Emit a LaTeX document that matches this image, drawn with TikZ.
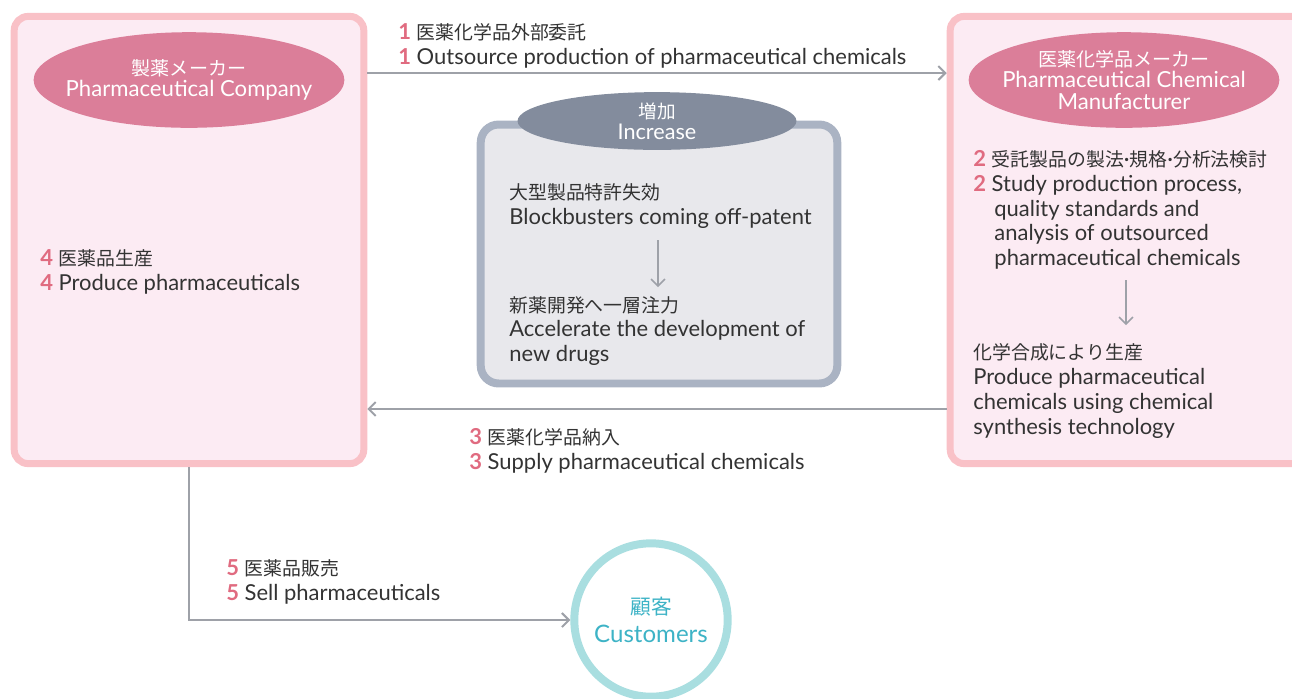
\documentclass[tikz,border=0pt]{standalone}
\usepackage{fontspec}
\setmainfont{Lato}
\newfontfamily\jp[Scale=0.86]{Noto Sans CJK JP}
\usepackage{tikz}
\usetikzlibrary{arrows.meta,positioning,calc,shapes.geometric}
\definecolor{boxpink}{HTML}{F9C1C7}
\definecolor{fillpink}{HTML}{FCEBF3}
\definecolor{ovalpink}{HTML}{DB7E99}
\definecolor{numred}{HTML}{E06B80}
\definecolor{boxgray}{HTML}{AAB3C3}
\definecolor{fillgray}{HTML}{E8E8EC}
\definecolor{ovalgray}{HTML}{838C9D}
\definecolor{linegray}{HTML}{9EA1A8}
\definecolor{ringteal}{HTML}{A9DEE0}
\definecolor{textteal}{HTML}{3DB3C6}
\definecolor{textdark}{HTML}{333333}
\def\px{0.5669pt}
\newcommand{\num}[1]{{\color{numred}\bfseries #1}}
\newcommand{\mdot}{{\fontspec{Lato}\textperiodcentered}}
\tikzset{
  firmbox/.style={
    draw=boxpink,
    fill=fillpink,
    line width=7*\px,
    rounded corners=14*\px,
    inner sep=0pt
  },
  trendbox/.style={
    draw=boxgray,
    fill=fillgray,
    line width=8*\px,
    rounded corners=18*\px,
    inner sep=0pt
  },
  firmoval/.style={
    ellipse,
    fill=ovalpink,
    text=white,
    align=center,
    inner xsep=-30pt,
    inner ysep=0pt,
    minimum width=312*\px,
    minimum height=96*\px,
    font=\fontsize{12.6pt}{12.3pt}\selectfont
  },
  trendoval/.style={
    ellipse,
    fill=ovalgray,
    text=white,
    align=center,
    inner xsep=-10pt,
    inner ysep=-2pt,
    minimum width=280*\px,
    minimum height=58*\px,
    font=\fontsize{12.3pt}{12pt}\selectfont
  },
  flowtext/.style={
    anchor=west,
    align=left,
    inner sep=0pt,
    text=textdark,
    font=\fontsize{12.5pt}{14.1pt}\selectfont
  },
  flowarrow/.style={-{Straight Barb[length=7*\px,width=14*\px]}, line width=2*\px, draw=linegray},
  steparrow/.style={-{Straight Barb[length=7*\px,width=14*\px]}, line width=1.5*\px, draw=linegray}
}
\begin{document}
\begin{tikzpicture}[x=0.02cm,y=-0.02cm]
\useasboundingbox (0,0) rectangle (1292,698);

% firms and trend box
\node[firmbox, minimum width=351*\px, minimum height=449*\px] (pharma) at (189,240) {};
\node[firmbox, minimum width=360*\px, minimum height=449*\px] (maker) at (1129.5,240) {};
\node[trendbox, minimum width=358*\px, minimum height=260*\px] (trend) at (659,254) {};

\node[firmoval] (pharmaoval) at (189,80) {{\jp 製薬メーカー}\\Pharmaceutical Company};
\node[firmoval] (makeroval) at (1124,80) {{\jp 医薬化学品メーカー}\\Pharmaceutical Chemical\\Manufacturer};
\node[trendoval] (trendoval) at (657,121) {{\jp 増加}\\Increase};

% customers
\node[circle, draw=ringteal, fill=white, line width=8*\px, minimum size=154*\px,
  align=center, text=textteal, font=\fontsize{13.7pt}{16pt}\selectfont] (cust) at (651,620)
  {{\jp 顧客}\\Customers};

% texts
\node[flowtext] (outsrc) at (398,46) {\num{1} {\jp 医薬化学品外部委託}\\\num{1} Outsource production of pharmaceutical chemicals};
\node[flowtext] (produce) at (40,272) {\num{4} {\jp 医薬品生産}\\\num{4} Produce pharmaceuticals};
\node[flowtext] (supply) at (469,451) {\num{3} {\jp 医薬化学品納入}\\\num{3} Supply pharmaceutical chemicals};
\node[flowtext] (sell) at (226,582) {\num{5} {\jp 医薬品販売}\\\num{5} Sell pharmaceuticals};

\node[flowtext] (patent) at (509,206) {{\jp 大型製品特許失効}\\Blockbusters coming off-patent};
\node[flowtext] (newdrug) at (509,331) {{\jp 新薬開発へ一層注力}\\Accelerate the development of\\new drugs};

\node[flowtext] (study) at (973,210) {\num{2} {\jp 受託製品の製法}\mdot{\jp 規格}\mdot{\jp 分析法検討}\\\num{2} Study production process,\\\hspace*{12pt}quality standards and\\\hspace*{12pt}analysis of outsourced\\\hspace*{12pt}pharmaceutical chemicals};
\node[flowtext] (synth) at (973,391) {{\jp 化学合成により生産}\\Produce pharmaceutical\\chemicals using chemical\\synthesis technology};

% connectors
\draw[flowarrow] (pharma.east |- 0,73) -- (maker.west |- 0,73);
\draw[flowarrow] (maker.west |- 0,409) -- (pharma.east |- 0,409);
\draw[flowarrow] (pharma.south) -- (pharma.south |- cust.west) -- (cust.west);
\draw[steparrow] (658,240) -- (658,287);
\draw[steparrow] (1126,280) -- (1126,325);
\end{tikzpicture}
\end{document}
